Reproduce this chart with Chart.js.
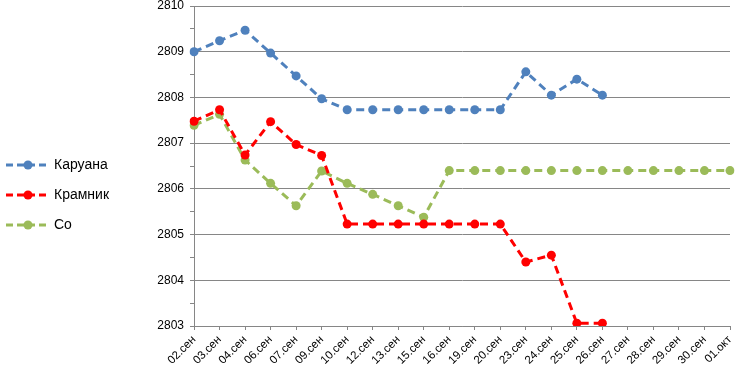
<!DOCTYPE html>
<html>
<head>
<meta charset="utf-8">
<script src="https://cdn.jsdelivr.net/npm/chart.js@4/dist/chart.umd.min.js"></script>
<style>
html,body{margin:0;padding:0;background:#fff;}
#wrap{width:745px;height:384px;position:relative;}
</style>
</head>
<body>
<div id="wrap"><canvas id="c" width="745" height="384"></canvas></div>
<script>
const categories = ["02.сен","03.сен","04.сен","06.сен","07.сен","09.сен","10.сен","12.сен","13.сен","15.сен","16.сен","19.сен","20.сен","23.сен","24.сен","25.сен","26.сен","27.сен","28.сен","29.сен","30.сен","01.окт"];
const caruana = [2809.0,2809.24,2809.47,2808.97,2808.47,2807.97,2807.73,2807.73,2807.73,2807.73,2807.73,2807.73,2807.73,2808.56,2808.05,2808.4,2808.05,null,null,null,null,null];
const kramnik = [2807.48,2807.73,2806.74,2807.47,2806.97,2806.73,2805.23,2805.23,2805.23,2805.23,2805.23,2805.23,2805.23,2804.4,2804.55,2803.06,2803.06,null,null,null,null,null];
const so = [2807.39,2807.63,2806.63,2806.12,2805.63,2806.39,2806.12,2805.88,2805.63,2805.38,2806.4,2806.4,2806.4,2806.4,2806.4,2806.4,2806.4,2806.4,2806.4,2806.4,2806.4,2806.4];
const seriesNames = ["Каруана","Крамник","Со"];
const seriesColors = ["#4F81BD","#FF0000","#9BBB59"];

function legendIcon(color){
  const cv = document.createElement('canvas');
  cv.width = 44; cv.height = 12;
  const g = cv.getContext('2d');
  g.strokeStyle = color; g.lineWidth = 3;
  g.setLineDash([7,4]);
  g.beginPath(); g.moveTo(0,6); g.lineTo(44,6); g.stroke();
  g.fillStyle = color;
  g.beginPath(); g.arc(22,6,4.5,0,Math.PI*2); g.fill();
  return cv;
}

const FONT = "'Liberation Sans', Arial, sans-serif";
const dataArrays = [caruana, kramnik, so];
const datasets = seriesNames.map((n,i)=>({
  label:n,
  data:dataArrays[i],
  borderColor:seriesColors[i],
  backgroundColor:seriesColors[i],
  borderWidth:3,
  borderDash:[8,5],
  pointRadius:4.5,
  pointHoverRadius:4.5,
  pointBorderWidth:0,
  pointStyle:'circle',
  spanGaps:false,
  tension:0
}));
const icons = seriesColors.map(legendIcon);

new Chart(document.getElementById('c'),{
  type:'line',
  data:{labels:categories,datasets},
  options:{
    responsive:false,
    animation:false,
    events:[],
    layout:{padding:{top:6,right:15,bottom:0,left:-7}},
    plugins:{
      tooltip:{enabled:false},
      legend:{
        position:'left',
        align:'center',
        labels:{
          usePointStyle:true,
          pointStyleWidth:38,
          boxHeight:12,
          padding:16,
          color:'#000',
          font:{family:FONT,size:14},
          generateLabels(chart){
            return chart.data.datasets.map((d,i)=>({
              text:d.label,
              pointStyle:icons[i],
              fillStyle:d.borderColor,
              strokeStyle:d.borderColor,
              lineWidth:0,
              hidden:false,
              datasetIndex:i,
              fontColor:'#000'
            }));
          }
        }
      }
    },
    scales:{
      x:{
        offset:false,
        grid:{display:true,drawOnChartArea:false,drawTicks:true,tickLength:4,tickColor:'#868686',color:'#868686'},
        border:{display:true,color:'#868686',width:1},
        ticks:{autoSkip:false,maxRotation:45,minRotation:45,color:'#000',font:{family:FONT,size:11.5},padding:3},
        afterFit(s){ s.height = 58; s.paddingLeft = 0; s.paddingRight = 0; }
      },
      y:{
        min:2803,max:2810,
        grid:{
          color:(c)=> (Number.isInteger(c.tick.value) ? '#868686' : 'rgba(0,0,0,0)'),
          tickColor:'#868686',
          tickLength:4,
          drawTicks:true
        },
        border:{display:true,color:'#868686',width:1},
        ticks:{
          stepSize:0.5,
          color:'#000',
          font:{family:FONT,size:12},
          padding:6,
          callback:(v)=> Number.isInteger(v) ? String(v) : ''
        },
        afterFit(s){ s.width = 75; s.paddingTop = 0; s.paddingBottom = 0; }
      }
    }
  }
});
</script>
</body>
</html>
